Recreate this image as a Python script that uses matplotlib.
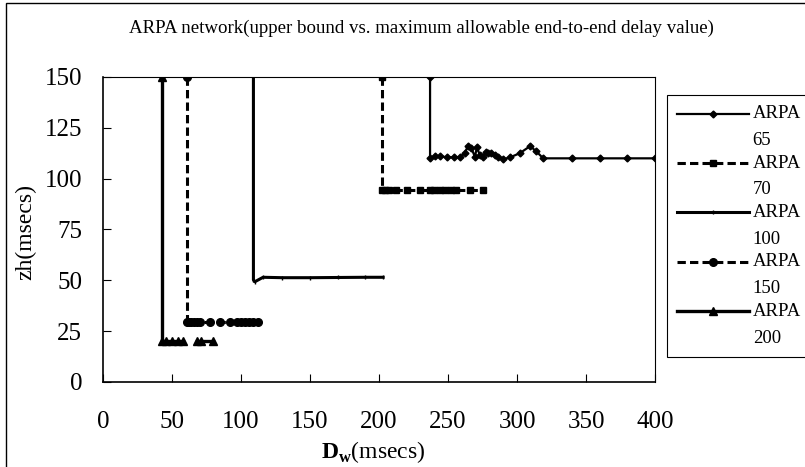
import matplotlib
matplotlib.use('Agg')
import matplotlib.pyplot as plt
import numpy as np
from matplotlib.patches import Rectangle
from matplotlib.legend_handler import HandlerLine2D

plt.rcParams['font.family'] = ['Liberation Serif', 'DejaVu Serif']
plt.rcParams['mathtext.fontset'] = 'custom'
plt.rcParams['mathtext.rm'] = 'Liberation Serif'
plt.rcParams['mathtext.bf'] = 'Liberation Serif:bold'
plt.rcParams['lines.scale_dashes'] = False

# data (Dw, zh); NaN marks a break in the line
x65 = [237, 237, 240.5, 244, 249, 254, 258.5, 262, 264.5, 267, 269.5, 271, 273, 275,
       277.5, 279, 281.5, 284, 286.5, 290, 295, 302, 309.5, 314, 319, 340, 360, 380, 400]
y65 = [150, 110.3, 111, 111, 110.5, 110.5, 110.5, 112.5, 116, 115, 110.7, 115.7, 111.5, 110.7,
       113, 112.5, 112.5, 111.5, 110.7, 109.5, 110.5, 112.5, 116, 113.4, 110, 110, 110, 110, 110]

x70 = [202, 202, 204, 207, 212, 220, 229.5, 237, 240, 244, 248, 252, 256, 266, 275]
y70 = [150, 94.2, 94.2, 94.2, 94.2, 94.2, 94.2, 94.2, 94.2, 94.2, 94.2, 94.2, 94.2, 94.2, 94.2]

x100 = [109, 109, 110, 116, 130, 150, 170, 190, 203]
y100 = [150, 50.2, 49.3, 51.5, 51.3, 51.3, 51.4, 51.5, 51.5]

x150 = [61, 61, 62, 64, 66, 68, 70, 77.5, 85, 92, 97, 100, 103, 106, 109, 112]
y150 = [150, 29.6, 29.6, 29.6, 29.6, 29.6, 29.6, 29.6, 29.6, 29.6, 29.6, 29.6, 29.6, 29.6, 29.6, 29.6]

x200 = [43, 43, 46, 50, 54, 58, np.nan, 68, 71, 80]
y200 = [150, 20.3, 20.3, 20.3, 20.3, 20.3, np.nan, 20.3, 20.3, 20.3]

labels = ['ARPA\n65', 'ARPA\n70', 'ARPA\n100', 'ARPA\n150', 'ARPA\n200']
xticks = [0, 50, 100, 150, 200, 250, 300, 350, 400]
yticks = [0, 25, 50, 75, 100, 125, 150]

fig = plt.figure(figsize=(8.05, 4.67), dpi=100)
ax = fig.add_axes([103 / 805, 1 - 382 / 467, 552 / 805, 305 / 467])

dash = (0, (6, 3))
ax.plot(x65, y65, color='black', lw=1.6, marker='D', ms=3.5, label=labels[0])
ax.plot(x70, y70, color='black', lw=2.2, ls=dash, marker='s', ms=5, label=labels[1])
ax.plot(x100, y100, color='black', lw=2.2, marker='|', ms=3, label=labels[2])
ax.plot(x150, y150, color='black', lw=2.2, ls=dash, marker='o', ms=5.5, label=labels[3])
ax.plot(x200, y200, color='black', lw=2.4, marker='^', ms=5.5, label=labels[4])

ax.set_xlim(0, 400)
ax.set_ylim(0, 150)
ax.set_xticks(xticks)
ax.set_yticks(yticks)
ax.tick_params(direction='in', length=6, width=0.8, labelsize=18)
ax.tick_params(axis='x', pad=21)
ax.tick_params(axis='y', pad=15)
for s in ax.spines.values():
    s.set_linewidth(0.8)
ax.spines['left'].set_linewidth(1.2)
ax.spines['bottom'].set_linewidth(1.2)

fig.text(421 / 805, 1 - 28 / 467, 'ARPA network(upper bound vs. maximum allowable end-to-end delay value)',
         ha='center', va='center', fontsize=13.6)
fig.text(26 / 805, 1 - 232 / 467, 'zh(msecs)', rotation=90, ha='center', va='center', fontsize=17)
fig.text(373 / 805, 1 - 452 / 467, r'$\mathbf{D}_{\mathbf{w}}$(msecs)', ha='center', va='center', fontsize=17)


class TopHandler(HandlerLine2D):
    # put the legend line beside the first line of a two-line label
    def create_artists(self, legend, orig_handle, xdescent, ydescent, width, height, fontsize, trans):
        arts = super().create_artists(legend, orig_handle, xdescent, ydescent, width, height, fontsize, trans)
        for a in arts:
            a.set_ydata(np.asarray(a.get_ydata()) + fontsize * 0.72)
        return arts


handles, labs = ax.get_legend_handles_labels()
leg = fig.legend(handles, labs, loc='upper left', bbox_to_anchor=(667 / 805, 1 - 95 / 467),
                 fontsize=13.5, frameon=True, fancybox=False, edgecolor='black', framealpha=1,
                 handlelength=3.8, handletextpad=0.22, labelspacing=0.3, borderpad=0.55,
                 borderaxespad=0, handler_map={h: TopHandler() for h in handles})
leg.get_frame().set_linewidth(0.8)
for t in leg.get_texts():
    t.set_linespacing(1.75)

fig.add_artist(Rectangle((6 / 805, -0.05), 1.2, 1.05 - 3 / 467, transform=fig.transFigure,
                         fill=False, lw=1, ec='black', clip_on=False))

fig.savefig('out.png', dpi=100)
